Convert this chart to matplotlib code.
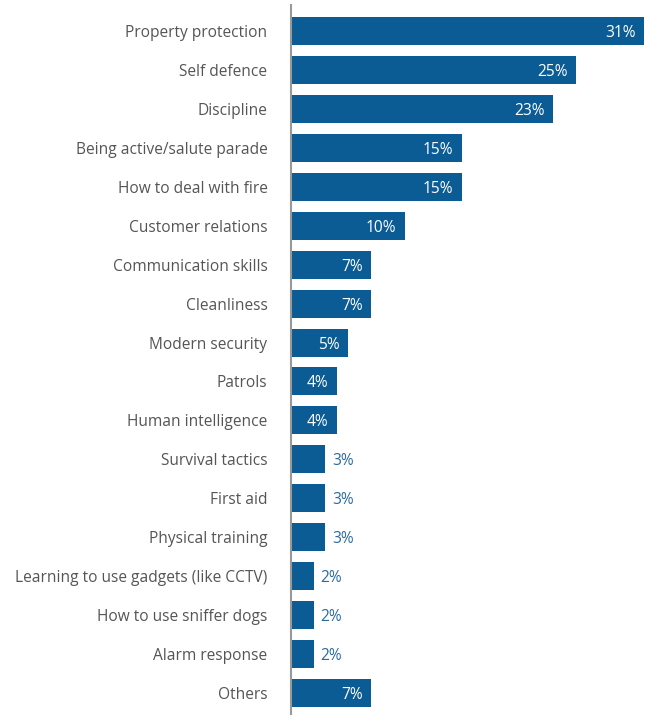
import matplotlib.pyplot as plt

plt.rcParams['font.family'] = ['Open Sans', 'DejaVu Sans']

categories = [
    'Property protection', 'Self defence', 'Discipline',
    'Being active/salute parade', 'How to deal with fire',
    'Customer relations', 'Communication skills', 'Cleanliness',
    'Modern security', 'Patrols', 'Human intelligence',
    'Survival tactics', 'First aid', 'Physical training',
    'Learning to use gadgets (like CCTV)', 'How to use sniffer dogs',
    'Alarm response', 'Others',
]
values = [31, 25, 23, 15, 15, 10, 7, 7, 5, 4, 4, 3, 3, 3, 2, 2, 2, 7]

bar_color = '#0b5c94'
W, H = 651, 715

fig = plt.figure(figsize=(W / 100, H / 100), dpi=100)
ax = fig.add_axes([291 / W, 0, 353 / W, 1 - 5 / H])

y = list(range(len(categories)))
ax.barh(y, values, height=0.72, color=bar_color)
ax.set_xlim(0, 31)
ax.set_ylim(len(categories) - 1 + 0.565, -0.668)

for yi, v in zip(y, values):
    if v >= 4:
        ax.annotate(f'{v}%', (v, yi), xytext=(-6, 0), textcoords='offset points',
                    ha='right', va='center_baseline', color='white', fontsize=11.2)
    else:
        ax.annotate(f'{v}%', (v, yi), xytext=(5, 0), textcoords='offset points',
                    ha='left', va='center_baseline', color='#2a6aa0', fontsize=11.2)

ax.set_yticks(y)
ax.set_yticklabels(categories, fontsize=11.2, color='#555555', va='center_baseline')
ax.tick_params(axis='y', length=0, pad=17)
ax.set_xticks([])
for s in ['top', 'right', 'bottom']:
    ax.spines[s].set_visible(False)
ax.spines['left'].set_color('#999999')
ax.spines['left'].set_linewidth(1.5)

fig.savefig('out.png', dpi=100)
